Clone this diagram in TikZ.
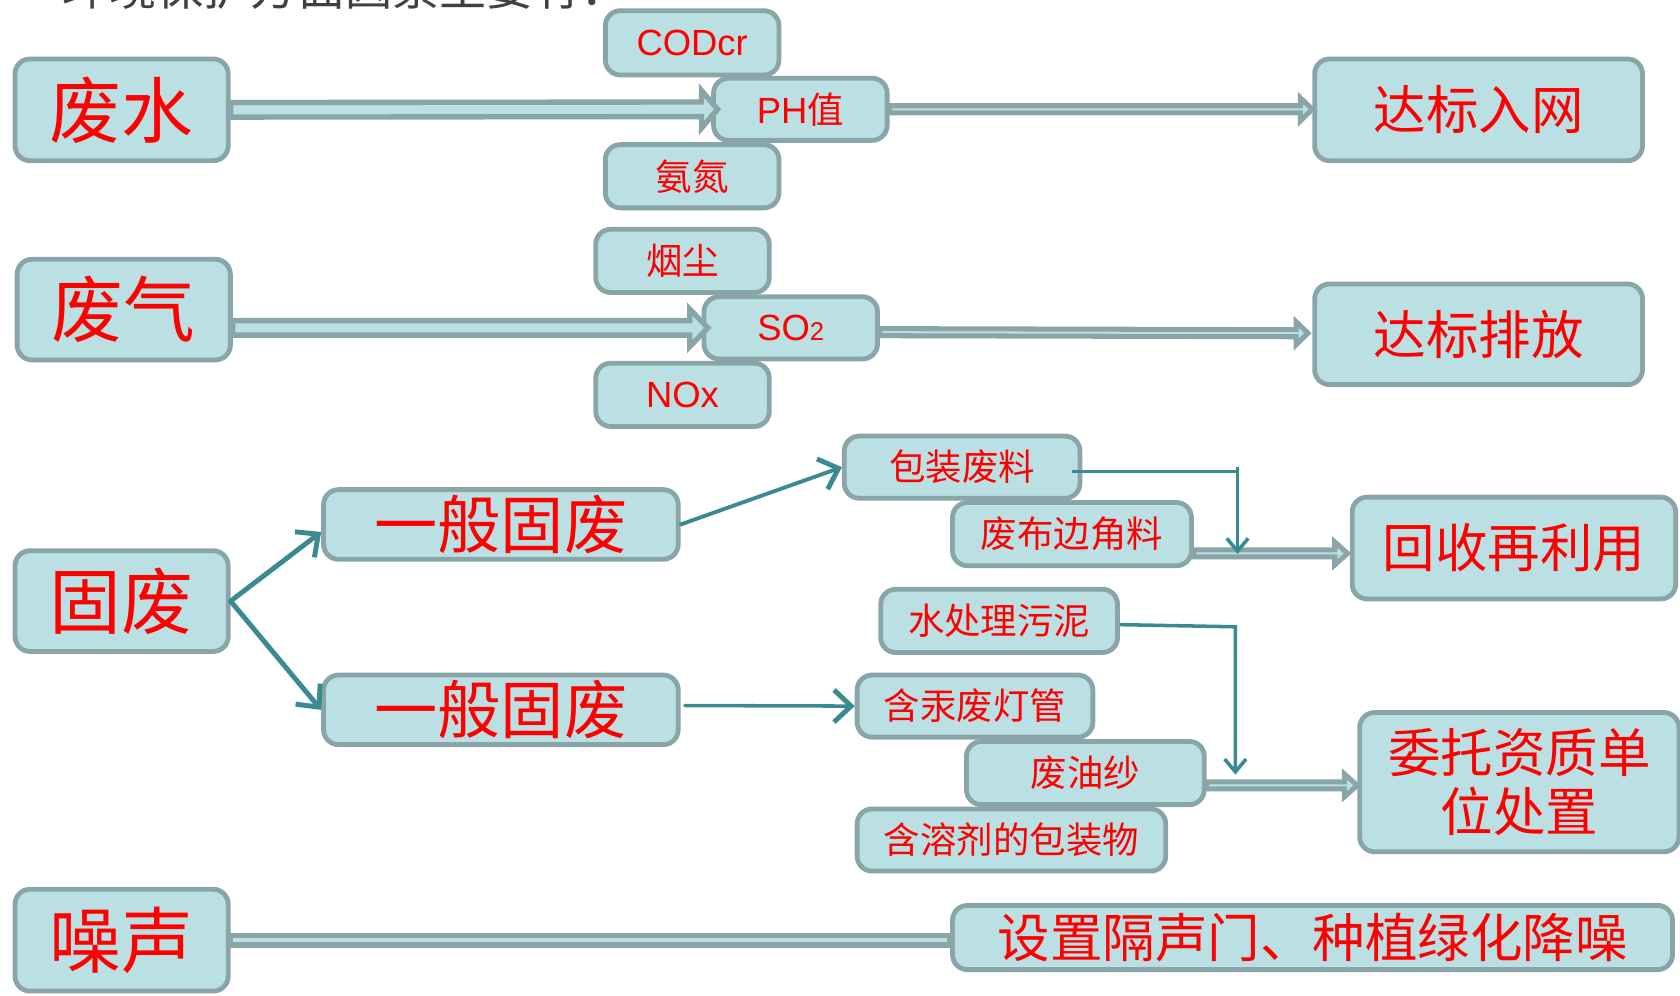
\documentclass[tikz,border=0pt]{standalone}
\usepackage{fontspec}
\setmainfont{Liberation Sans}
\newfontfamily\cjk{Noto Sans CJK SC}
\usetikzlibrary{calc,arrows.meta}
\definecolor{bf}{RGB}{187,224,227}
\definecolor{bd}{RGB}{138,165,168}
\definecolor{tl}{RGB}{58,139,145}
\definecolor{ttlc}{RGB}{64,64,64}
% block arrow: #1 line width, #2 start, #3 end, #4 shaft half, #5 head half, #6 head length
\newcommand\blockarr[6]{%
  \draw[line width=#1, draw=bd, fill=bf, line join=miter] let \p1=#2, \p2=#3 in
  (\x1,\y1+#4) -- (\x2-#6,\y2+#4) -- (\x2-#6,\y2+#5) -- (\x2,\y2) --
  (\x2-#6,\y2-#5) -- (\x2-#6,\y2-#4) -- (\x1,\y1-#4) -- cycle;}
\newcommand\blockbar[4]{%
  \draw[line width=#1, draw=bd, fill=bf] let \p1=#2, \p2=#3 in
  (\x1,\y1+#4) -- (\x2,\y2+#4) -- (\x2,\y2-#4) -- (\x1,\y1-#4) -- cycle;}
\begin{document}
\begin{tikzpicture}[x=1pt,y=-1pt,
  box/.style={draw=bd, fill=bf, line width=4.5pt, rounded corners=14pt,
    inner sep=0pt, text=red, align=center},
  big/.style={font=\cjk\fontsize{67}{72}\selectfont},
  mid/.style={font=\cjk\fontsize{49}{55}\selectfont},
  yb/.style={font=\cjk\fontsize{59}{62}\selectfont},
  small/.style={font=\cjk\fontsize{34}{36}\selectfont},
  lat/.style={font=\fontsize{34}{36}\selectfont},
  tarrow/.style={draw=tl, line width=4.6pt, line cap=round,
    -{Straight Barb[length=16pt,width=30pt,line width=4.6pt]}},
  tthin/.style={draw=tl, line width=3.3pt,
    -{Straight Barb[length=12pt,width=20pt,line width=3.3pt]}},
  ttl/.style={font=\cjk\fontsize{44}{46}\selectfont, text=ttlc, inner sep=0pt}]
\useasboundingbox (0,0) rectangle (1568,929);
\clip (0,0) rectangle (1568,929);
\node[ttl, anchor=base west] (title) at (58,5) {环境保护方面因素主要有：};

% waste water
\node[box, big, minimum width=199pt, minimum height=95pt] (fs) at (113.5,102.5) {废水};
\node[box, lat, minimum width=162pt, minimum height=60pt] (cod) at (646,40) {CODcr};
\node[box, small, minimum width=162pt, minimum height=59pt] (nh) at (646,164.5) {氨氮};
\node[box, lat, minimum width=162pt, minimum height=58pt] (ph) at (747,102) {PH{\cjk 值}};
\node[box, mid, minimum width=306pt, minimum height=95pt] (dbrw) at (1380,102.5) {达标入网};

% waste gas
\node[box, big, minimum width=199pt, minimum height=94pt] (fq) at (115.5,289) {废气};
\node[box, small, minimum width=162pt, minimum height=59pt] (yc) at (637,243.5) {烟尘};
\node[box, lat, minimum width=162pt, minimum height=59pt] (nox) at (637,368.5) {NOx};
\node[box, lat, minimum width=162pt, minimum height=58pt] (so2) at (738,306) {SO{\fontsize{24}{24}\selectfont 2}};
\node[box, mid, minimum width=306pt, minimum height=94pt] (dbpf) at (1380,312) {达标排放};

% solid waste
\node[box, big, minimum width=199pt, minimum height=94pt] (gf) at (113.5,561) {固废};
\node[box, yb, minimum width=331pt, minimum height=65pt] (yb1) at (467.5,489.5) {一般固废};
\node[box, yb, minimum width=331pt, minimum height=65pt] (yb2) at (467.5,662.5) {一般固废};
\node[box, small, minimum width=220pt, minimum height=58pt] (bz) at (898,436) {包装废料};
\node[box, small, minimum width=223pt, minimum height=59pt] (fb) at (1000.5,498.5) {废布边角料};
\node[box, mid, minimum width=302pt, minimum height=95pt] (hs) at (1413,511.5) {回收再利用};
\node[box, small, minimum width=221pt, minimum height=59pt] (wcl) at (932.5,579.5) {水处理污泥};
\node[box, small, minimum width=220pt, minimum height=58pt] (hg) at (910,659) {含汞废灯管};
\node[box, small, minimum width=222pt, minimum height=59pt] (fy) at (1013,721.5) {废油纱};
\node[box, small, minimum width=288pt, minimum height=58pt] (hr) at (944,784) {含溶剂的包装物};
\node[box, mid, minimum width=298pt, minimum height=130pt] (wt) at (1418,730) {委托资质单\\位处置};

% noise
\node[box, big, minimum width=199pt, minimum height=95pt] (zs) at (113.5,877.5) {噪声};
\node[box, mid, minimum width=672pt, minimum height=60pt] (gs) at (1225,875) {设置隔声门、种植绿化降噪};

% block arrows
\blockarr{5pt}{(fs.east)}{($(ph.west)+(6,0)$)}{6.8pt}{17.5pt}{15pt}
\blockarr{4.7pt}{(ph.east)}{(ph.east -| dbrw.west)}{3.3pt}{10.7pt}{11pt}
\blockarr{5pt}{(fq.east |- so2.west)}{($(so2.west)+(6,0)$)}{6.8pt}{17.5pt}{17pt}
\blockarr{4.7pt}{($(so2.east)+(0,4)$)}{($(dbpf.west)+(-4,-1)$)}{3.3pt}{10.7pt}{11pt}
\blockarr{4.7pt}{($(fb.east)+(0,18)$)}{($(hs.west)+(-2,5)$)}{3.3pt}{10.7pt}{12pt}
\blockarr{4.7pt}{($(fy.east)+(0,11.5)$)}{($(wt.west)+(0,3)$)}{3.3pt}{10.7pt}{12pt}
\blockbar{5.3pt}{(zs.east)}{(zs.east -| gs.west)}{4.3pt}

% teal arrows
\draw[tarrow] (gf.east) -- ($(yb1.west)+(0,7)$);
\draw[tarrow] (gf.east) -- (yb2.west);
\draw[tarrow, line width=3.6pt] (yb1.east) -- (bz.west);
\draw[tarrow, line width=3.3pt] ($(yb2.east)+(4,-4)$) -- (hg.west);

\coordinate (k1) at (1155,440);
\coordinate (k1e) at (1155,517);
\draw[tl, line width=3.3pt] ($(bz.east)+(-10,4)$) -- (k1);
\draw[tthin] ($(k1)+(0,-4)$) -- (k1e);

\coordinate (k2) at (1153,585);
\coordinate (k2e) at (1153,723);
\draw[tthin, line join=miter] ($(wcl.east)+(0,3.5)$) -- (k2) -- (k2e);
\end{tikzpicture}
\end{document}
